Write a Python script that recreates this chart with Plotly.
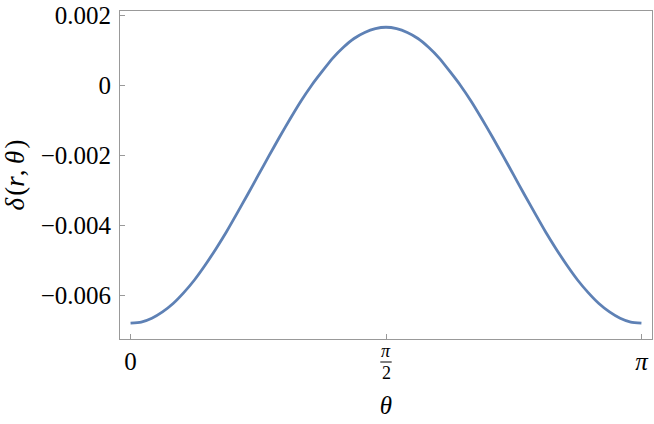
import numpy as np
import plotly.graph_objects as go

# theta samples (multiples of pi/48) and delta(r, theta)
theta_steps = list(range(49))
delta = [-0.00679, -0.00676, -0.00665, -0.00647, -0.00623, -0.00592,
         -0.00556, -0.00514, -0.00468, -0.00419, -0.00366, -0.00312,
         -0.00257, -0.00202, -0.00148, -0.00096, -0.00046, -0.00001,
         0.00039, 0.00077, 0.00108, 0.00133, 0.00150, 0.00161,
         0.00165,
         0.00161, 0.00150, 0.00133, 0.00108, 0.00077, 0.00039,
         -0.00001, -0.00046, -0.00096, -0.00148, -0.00202, -0.00257,
         -0.00312, -0.00366, -0.00419, -0.00468, -0.00514, -0.00556,
         -0.00592, -0.00623, -0.00647, -0.00665, -0.00676, -0.00679]

y_tickvals = [0.002, 0, -0.002, -0.004, -0.006]
y_ticktext = ['0.002', '0', '\u22120.002', '\u22120.004', '\u22120.006']
x_tickvals = [0, np.pi / 2, np.pi]
x_ticktext = ['0', ' ', '<i>\u03c0</i>']

theta = np.array(theta_steps) * np.pi / 48

SERIF = "'Liberation Serif', 'Times New Roman', 'DejaVu Serif', serif"
FRAME = '#999999'
PLOT_H = 424 - 11 - 85

fig = go.Figure()
fig.add_trace(go.Scatter(
    x=theta,
    y=delta,
    mode='lines',
    line=dict(color='#5e81b5', width=2.8, shape='spline', smoothing=0.6),
    showlegend=False,
))

# pi/2 tick label drawn as a small stacked fraction
frac_y = -23 / PLOT_H
fig.add_annotation(x=np.pi / 2, y=frac_y, xref='x', yref='paper', yanchor='bottom',
                   text='<i>\u03c0</i>', showarrow=False, yshift=-1,
                   font=dict(family=SERIF, size=18, color='black'))
fig.add_annotation(x=np.pi / 2, y=frac_y, xref='x', yref='paper', yanchor='top',
                   text='2', showarrow=False, yshift=1,
                   font=dict(family=SERIF, size=18, color='black'))
fig.add_shape(type='line', xref='x', yref='paper',
              x0=np.pi / 2 - 0.035, x1=np.pi / 2 + 0.035, y0=frac_y, y1=frac_y,
              line=dict(color='black', width=1))

axis_common = dict(
    showline=True, linecolor=FRAME, linewidth=1, mirror=True,
    showgrid=False, zeroline=False, automargin=False,
    ticks='inside', ticklen=5, tickcolor=FRAME, tickwidth=1,
    tickfont=dict(family=SERIF, size=25, color='black'),
)

fig.update_layout(
    width=654, height=424,
    margin=dict(l=120, r=2, t=11, b=85),
    plot_bgcolor='white', paper_bgcolor='white',
    xaxis=dict(
        range=[-0.065, np.pi + 0.065],
        tickmode='array', tickvals=x_tickvals, ticktext=x_ticktext,
        ticklabelstandoff=0,
        title=dict(text='<i>\u03b8</i>', font=dict(family=SERIF, size=25, color='black'), standoff=22),
        **axis_common,
    ),
    yaxis=dict(
        range=[-0.007243, 0.002114],
        tickmode='array', tickvals=y_tickvals, ticktext=y_ticktext,
        ticklabelstandoff=3,
        title=dict(text='<i>\u03b4</i>\u200a(<i>r</i>,\u2009<i>\u03b8</i>\u200a)', font=dict(family=SERIF, size=27, color='black'), standoff=14),
        **axis_common,
    ),
)

fig.write_html('out.html', config={'displayModeBar': False},
               post_script="document.body.style.margin = '0';")
